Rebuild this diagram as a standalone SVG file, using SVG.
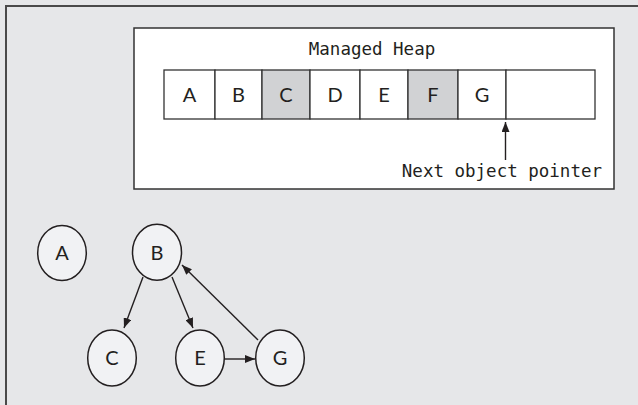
<svg xmlns="http://www.w3.org/2000/svg" width="638" height="405" viewBox="0 0 638 405">
<style>
.bg{fill:#e6e7e9}
.frame{fill:none;stroke:#4a4a4a;stroke-width:2}
.heap{fill:#ffffff;stroke:#333;stroke-width:1.5}
.cell{fill:#ffffff;stroke:#333;stroke-width:1.3}
.cell.gray{fill:#d1d2d4}
.node{fill:#f1f2f4;stroke:#231f20;stroke-width:1.5}
.lbl{font-family:Lato,"Open Sans",sans-serif;font-size:20px;fill:#231f20;text-anchor:middle}
.mono{font-family:"DejaVu Sans Mono","Liberation Mono",monospace;font-size:17.5px;fill:#231f20}
.edge{fill:none;stroke:#231f20;stroke-width:1.4;marker-end:url(#ah)}
</style>
<defs>
<marker id="ah" viewBox="0 0 10 8" refX="10" refY="4" markerWidth="10" markerHeight="8" markerUnits="userSpaceOnUse" orient="auto">
<path d="M0,0 L10,4 L0,8 Z" fill="#231f20"/>
</marker>
</defs>
<rect class="bg" x="0" y="0" width="638" height="405"/>
<path class="frame" d="M6,405 V6 H638"/>
<g id="managed-heap">
<rect class="heap" x="134" y="28" width="480" height="161"/>
<text class="mono" x="372" y="55" text-anchor="middle">Managed Heap</text>
<g id="cell-A"><rect class="cell" x="164" y="70" width="51" height="49"/><text class="lbl" x="189.5" y="102">A</text></g>
<g id="cell-B"><rect class="cell" x="215" y="70" width="47" height="49"/><text class="lbl" x="238.5" y="102">B</text></g>
<g id="cell-C"><rect class="cell gray" x="262" y="70" width="48" height="49"/><text class="lbl" x="286" y="102">C</text></g>
<g id="cell-D"><rect class="cell" x="310" y="70" width="50" height="49"/><text class="lbl" x="335" y="102">D</text></g>
<g id="cell-E"><rect class="cell" x="360" y="70" width="48" height="49"/><text class="lbl" x="384" y="102">E</text></g>
<g id="cell-F"><rect class="cell gray" x="408" y="70" width="50" height="49"/><text class="lbl" x="433" y="102">F</text></g>
<g id="cell-G"><rect class="cell" x="458" y="70" width="48" height="49"/><text class="lbl" x="482" y="102">G</text></g>
<g id="cell-free"><rect class="cell" x="506" y="70" width="89" height="49"/></g>
<text class="mono" x="602" y="177" text-anchor="end">Next object pointer</text>
</g>
<g id="connectors">
<line class="edge" x1="505.5" y1="160" x2="505.5" y2="122"/>
<line class="edge" x1="143" y1="277" x2="124" y2="328"/>
<line class="edge" x1="172" y1="277" x2="193" y2="328"/>
<line class="edge" x1="258" y1="340" x2="182" y2="265"/>
<line class="edge" x1="224" y1="359" x2="255" y2="359"/>
</g>
<g id="node-A"><ellipse class="node" cx="62" cy="253" rx="24.3" ry="27.5"/><text class="lbl" x="62" y="260">A</text></g>
<g id="node-B"><ellipse class="node" cx="157" cy="252.3" rx="24.5" ry="28"/><text class="lbl" x="157" y="260">B</text></g>
<g id="node-C"><ellipse class="node" cx="112" cy="358" rx="24.3" ry="28"/><text class="lbl" x="112" y="365">C</text></g>
<g id="node-E"><ellipse class="node" cx="200" cy="358" rx="24.3" ry="28"/><text class="lbl" x="200" y="365">E</text></g>
<g id="node-G"><ellipse class="node" cx="280" cy="358" rx="24.3" ry="28"/><text class="lbl" x="280" y="365">G</text></g>
</svg>
